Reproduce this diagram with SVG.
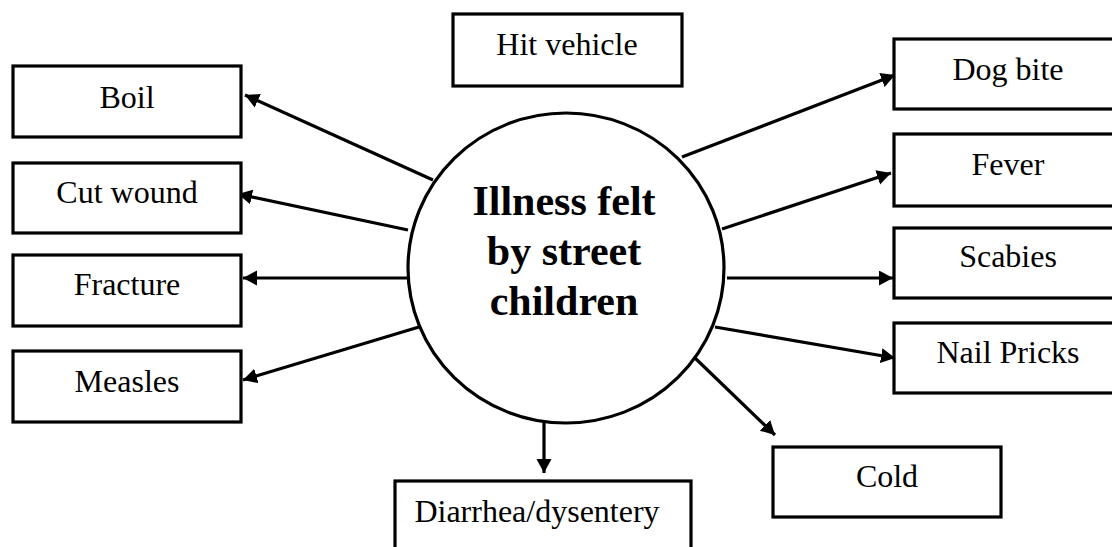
<svg xmlns="http://www.w3.org/2000/svg" width="1112" height="547" viewBox="0 0 1112 547">
<style>
.box{fill:#fff;stroke:#000;stroke-width:3.2}
.lbl{font-family:"Liberation Serif","Times New Roman",serif;font-size:32px;fill:#000;text-anchor:middle}
.ctr{font-family:"Liberation Serif","Times New Roman",serif;font-size:42px;font-weight:bold;fill:#000;text-anchor:middle}
.con{fill:none;stroke:#000;stroke-width:3.2;marker-end:url(#ah)}
</style>
<defs>
<marker id="ah" markerUnits="userSpaceOnUse" markerWidth="16" markerHeight="16" refX="14" refY="7.5" orient="auto">
<path d="M0,0 L14,7.5 L0,15 z" fill="#000"/>
</marker>
</defs>
<rect width="1112" height="547" fill="#fff"/>
<g id="connectors">
<path class="con" d="M433,180 L245,95"/>
<path class="con" d="M408,230 L238,194"/>
<path class="con" d="M407,278 L243,278"/>
<path class="con" d="M419,327 L243,380"/>
<path class="con" d="M682,157 L895,75"/>
<path class="con" d="M722,229 L891,173"/>
<path class="con" d="M727,278 L893,278"/>
<path class="con" d="M715,327 L895,358"/>
<path class="con" d="M695,358 L775,435"/>
<path class="con" d="M544,422 L544,473"/>
</g>
<g id="center">
<ellipse cx="566" cy="268" rx="158" ry="155" class="box"/>
<text class="ctr" x="564" y="215">Illness felt</text>
<text class="ctr" x="564" y="265">by street</text>
<text class="ctr" x="564" y="315">children</text>
</g>
<g id="boil"><rect class="box" x="13" y="66" width="228" height="71"/><text class="lbl" x="127" y="108">Boil</text></g>
<g id="cutwound"><rect class="box" x="13" y="163" width="228" height="70"/><text class="lbl" x="127" y="203">Cut wound</text></g>
<g id="fracture"><rect class="box" x="13" y="255" width="228" height="71"/><text class="lbl" x="127" y="295">Fracture</text></g>
<g id="measles"><rect class="box" x="13" y="351" width="228" height="71"/><text class="lbl" x="127" y="392">Measles</text></g>
<g id="hitvehicle"><rect class="box" x="453" y="14" width="229" height="72"/><text class="lbl" x="567" y="55">Hit vehicle</text></g>
<g id="dogbite"><rect class="box" x="894" y="39" width="230" height="70"/><text class="lbl" x="1008" y="80">Dog bite</text></g>
<g id="fever"><rect class="box" x="894" y="134" width="230" height="72"/><text class="lbl" x="1008" y="175">Fever</text></g>
<g id="scabies"><rect class="box" x="894" y="228" width="230" height="70"/><text class="lbl" x="1008" y="267">Scabies</text></g>
<g id="nailpricks"><rect class="box" x="894" y="323" width="230" height="70"/><text class="lbl" x="1008" y="363">Nail Pricks</text></g>
<g id="cold"><rect class="box" x="773" y="447" width="228" height="70"/><text class="lbl" x="887" y="487">Cold</text></g>
<g id="diarrhea"><rect class="box" x="395" y="481" width="296" height="80"/><text class="lbl" x="537" y="522">Diarrhea/dysentery</text></g>
</svg>
